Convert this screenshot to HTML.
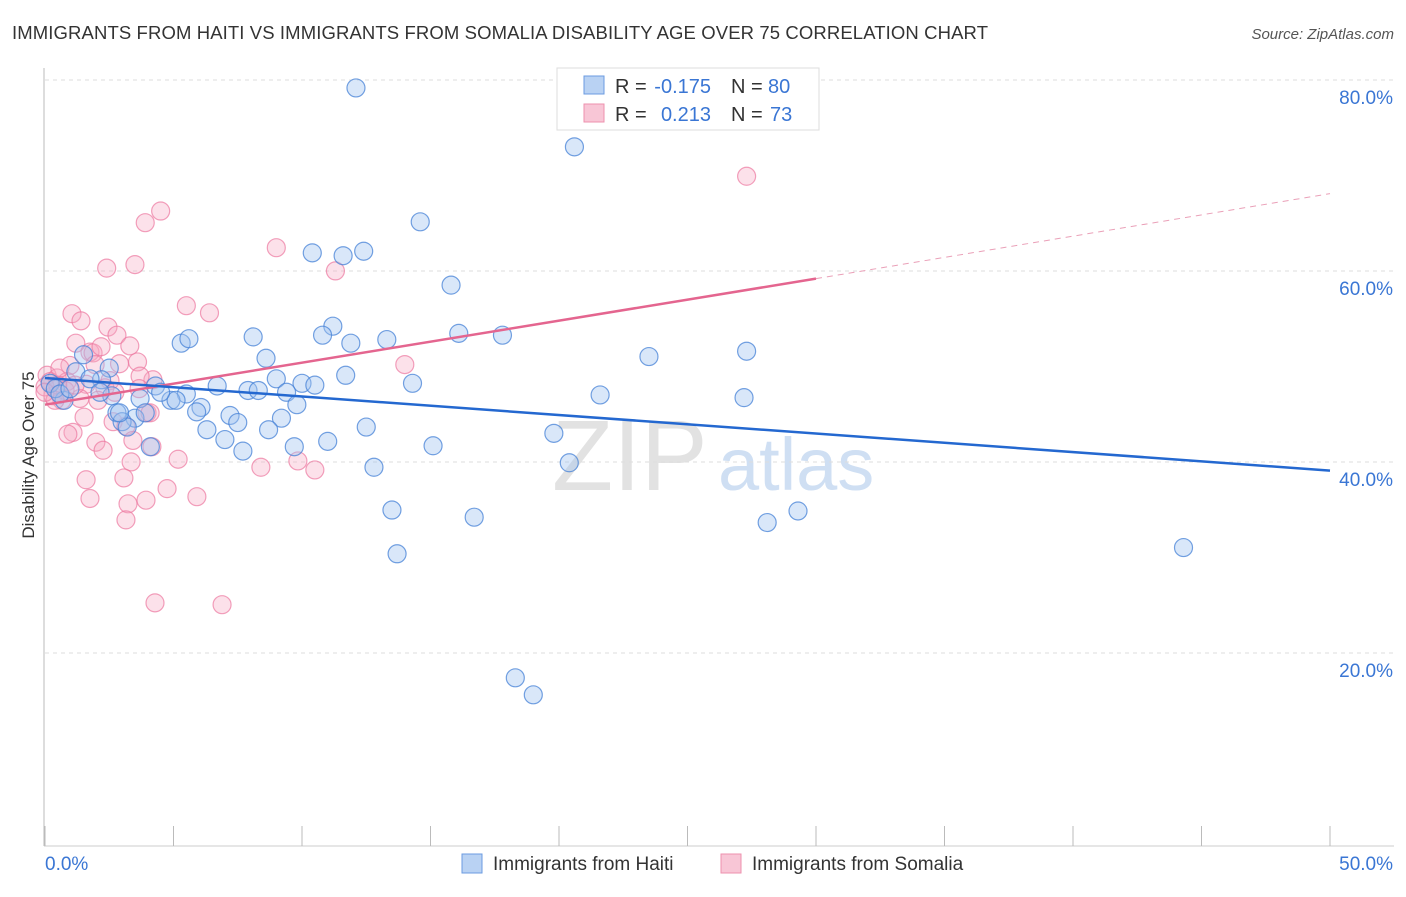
<!DOCTYPE html>
<html><head><meta charset="utf-8"><style>
body{margin:0;background:#fff;font-family:"Liberation Sans",sans-serif}
svg text{font-family:"Liberation Sans",sans-serif}
</style></head><body>
<svg id="c" width="1406" height="892">
<text x="12" y="39" font-size="18.5" fill="#333" textLength="976">IMMIGRANTS FROM HAITI VS IMMIGRANTS FROM SOMALIA DISABILITY AGE OVER 75 CORRELATION CHART</text>
<text x="1394" y="39" font-size="15" fill="#555" font-style="italic" text-anchor="end">Source: ZipAtlas.com</text>
<text x="34" y="455" font-size="17" fill="#333" text-anchor="middle" transform="rotate(-90 34 455)">Disability Age Over 75</text>
<g><text x="552" y="490" font-size="100" fill="#e2e2e2" font-family="Liberation Serif">ZIP</text><text x="718" y="490" font-size="74" fill="#cfdff3">atlas</text></g>
<g id="grid"></g><g id="marks"></g><g id="lines"></g>
<g>
<rect x="557" y="68" width="262" height="62" fill="#fff" stroke="#ddd"/>
<rect x="584" y="76" width="20" height="18" fill="#b9d2f3" stroke="#6b9be0"/>
<rect x="584" y="104" width="20" height="18" fill="#f8c6d6" stroke="#ee90ae"/>
<text x="615" y="93" font-size="20" fill="#333">R =</text><text x="711" y="93" font-size="20" fill="#3a76d4" text-anchor="end">-0.175</text>
<text x="731" y="93" font-size="20" fill="#333">N =</text><text x="768" y="93" font-size="20" fill="#3a76d4">80</text>
<text x="615" y="121" font-size="20" fill="#333">R =</text><text x="711" y="121" font-size="20" fill="#3a76d4" text-anchor="end">0.213</text>
<text x="731" y="121" font-size="20" fill="#333">N =</text><text x="770" y="121" font-size="20" fill="#3a76d4">73</text>
</g>
<g>
<rect x="462" y="854" width="20" height="19" fill="#b9d2f3" stroke="#6b9be0"/>
<text x="493" y="870" font-size="19" fill="#333">Immigrants from Haiti</text>
<rect x="721" y="854" width="20" height="19" fill="#f8c6d6" stroke="#ee90ae"/>
<text x="752" y="870" font-size="19" fill="#333">Immigrants from Somalia</text>
</g>
</svg>
<script>
const yTicks=[20,40,60,80];
const xTickLabels=["0.0%","50.0%"];
const haitiX=[12.1,20.6,14.6,10.4,11.6,12.4,15.8,11.2,17.8,23.5,10.8,16.1,5.3,5.6,8.1,11.9,13.3,27.3,1.5,8.6,2.5,1.2,11.7,14.3,9.0,4.3,2.2,6.7,10.0,10.5,7.9,8.3,5.5,9.4,21.6,27.2,0.74,2.6,3.7,4.9,5.1,9.8,6.07,5.9,2.8,7.2,3.5,9.2,3.0,7.5,6.3,8.7,3.2,12.5,19.8,11.0,7.0,9.7,15.1,4.1,7.7,12.8,20.4,13.5,16.7,29.3,28.1,13.7,44.3,18.3,19.0,0.2,0.4,0.58,0.97,1.75,4.5,2.9,2.14,3.9];
const haitiY=[79.17,73.0,65.15,61.9,61.6,62.07,58.52,54.22,53.28,51.04,53.28,53.47,52.44,52.91,53.1,52.44,52.82,51.6,51.23,50.86,49.83,49.45,49.08,48.24,48.71,47.96,48.61,47.96,48.24,48.05,47.49,47.49,47.12,47.3,47.02,46.74,46.46,46.93,46.65,46.46,46.46,46.0,45.71,45.25,45.15,44.87,44.59,44.59,44.22,44.13,43.38,43.38,43.66,43.66,43.0,42.16,42.35,41.6,41.7,41.6,41.14,39.45,39.92,34.97,34.22,34.87,33.66,30.39,31.04,17.4,15.62,48.24,47.68,47.12,47.68,48.71,47.3,45.15,47.3,45.15];
const somX=[4.5,3.9,9.0,2.4,3.5,11.3,5.5,6.4,1.05,1.4,2.45,2.8,1.2,1.75,3.3,1.87,2.18,0.97,2.9,3.6,14.0,0.08,0.47,0.86,1.6,2.53,4.2,3.7,2.33,0.31,0.66,1.36,2.06,3.66,3.97,2.65,1.52,3.15,3.42,1.98,2.26,1.09,0.89,4.16,5.18,3.35,8.4,9.84,10.5,1.6,3.07,4.75,1.75,5.91,3.23,3.93,3.15,4.28,6.89,27.3,0.2,0,0.5,0.78,1.17,0.39,1.95,2.72,4.09,0,0.58];
const somY=[66.28,65.06,62.44,60.3,60.67,60.01,56.37,55.62,55.53,54.78,54.13,53.28,52.44,51.51,52.16,51.42,52.07,50.11,50.29,50.48,50.2,49.08,48.8,48.42,48.14,48.52,48.61,48.99,47.77,46.93,46.46,46.65,46.46,47.68,45.15,44.22,44.69,43.75,42.26,42.07,41.23,43.1,42.91,41.6,40.29,40.01,39.45,40.11,39.17,38.14,38.33,37.21,36.18,36.37,35.62,36.0,33.94,25.25,25.06,69.92,48.42,47.86,48.05,47.49,48.05,46.46,50.2,47.3,45.15,47.3,49.83];
const haitiTrend=[[0,48.8],[50,39.1]];
const somTrendSolid=[[0,46.0],[30,59.2]];
const somTrendDash=[[30,59.2],[50,68.1]];
const NS="http://www.w3.org/2000/svg";
const X=v=>45+v*25.7, Y=v=>844-v*9.55;
function el(t,a,p){const e=document.createElementNS(NS,t);for(const k in a)e.setAttribute(k,a[k]);p.appendChild(e);return e;}
const g=document.getElementById('grid');
const ax=el('line',{x1:44,y1:68,x2:44,y2:846,stroke:'#bbb'},g);


const bx=el('line',{x1:44,y1:846,x2:1394,y2:846,stroke:'#ccc'},g);


yTicks.forEach(t=>{
 const l=el('line',{x1:45,x2:1394,y1:Y(t),y2:Y(t),stroke:'#ddd','stroke-dasharray':'4,4'},g);
 
 
 const tx=el('text',{x:1393,y:Y(t)+24,'font-size':19,fill:'#3a76d4','text-anchor':'end'},g);
 tx.textContent=t.toFixed(1)+'%';
 
 
});
for(let i=0;i<=10;i++){
 const l=el('line',{x1:X(i*5),x2:X(i*5),y1:826,y2:846,stroke:'#bbb'},g);
 
 
}
const t0=el('text',{x:45,y:870,'font-size':19,fill:'#3a76d4'},g);t0.textContent=xTickLabels[0];


const t1=el('text',{x:1393,y:870,'font-size':19,fill:'#3a76d4','text-anchor':'end'},g);t1.textContent=xTickLabels[1];


const m=document.getElementById('marks');
somX.forEach((v,i)=>{const c=el('circle',{cx:X(v),cy:Y(somY[i]),r:9,fill:'rgba(246,170,196,0.35)',stroke:'rgba(236,120,160,0.7)','stroke-width':1.2},m);
 
 });
haitiX.forEach((v,i)=>{const c=el('circle',{cx:X(v),cy:Y(haitiY[i]),r:9,fill:'rgba(160,196,240,0.4)',stroke:'rgba(70,130,215,0.75)','stroke-width':1.2},m);
 
 });
const L=document.getElementById('lines');
function ln(p,col,dash,name){const e=el('line',{x1:X(p[0][0]),y1:Y(p[0][1]),x2:X(p[1][0]),y2:Y(p[1][1]),stroke:col,'stroke-width':dash?1:2.5},L);if(dash)e.setAttribute('stroke-dasharray','6,5');
 
 }
ln(somTrendSolid,'#e4658f',false,'somalia-trend-line');
ln(somTrendDash,'#eaa0b8',true,'somalia-trend-extension');
ln(haitiTrend,'#2468d0',false,'haiti-trend-line');
</script>
</body></html>
